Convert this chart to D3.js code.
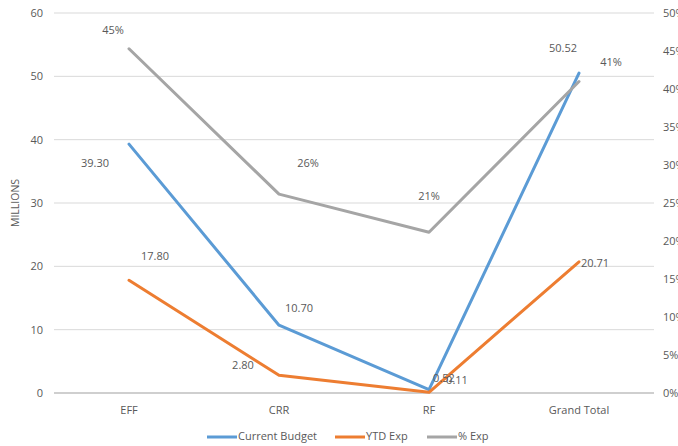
<!DOCTYPE html>
<html>
<head>
<meta charset="utf-8">
<script src="https://cdn.jsdelivr.net/npm/d3@7"></script>
<style>
  html, body { margin: 0; padding: 0; background: #fff; }
  svg text { font-family: "Open Sans", "Noto Sans", sans-serif; fill: #595959; }
</style>
</head>
<body>
<svg id="chart" width="678" height="446"></svg>
<script>
// Budget vs. year-to-date expenditure by program (millions) and % spent
const categories = ["EFF", "CRR", "RF", "Grand Total"];
const currentBudget = [39.30, 10.70, 0.52, 50.52];
const ytdExp = [17.80, 2.80, 0.11, 20.71];
const pctExp = [0.4529, 0.2617, 0.2115, 0.4099];
const leftTicks = [0, 10, 20, 30, 40, 50, 60];
const rightTicks = [0, 0.05, 0.10, 0.15, 0.20, 0.25, 0.30, 0.35, 0.40, 0.45, 0.50];

const svg = d3.select("#chart");
const plot = { left: 54, right: 654, top: 13, bottom: 393 };

const x = d3.scaleBand().domain(categories).range([plot.left, plot.right]);
const cx = d => x(d) + x.bandwidth() / 2;
const yL = d3.scaleLinear().domain([0, 60]).range([plot.bottom, plot.top]);
const yR = d3.scaleLinear().domain([0, 0.5]).range([plot.bottom, plot.top]);

// gridlines
svg.append("g").selectAll("line").data(leftTicks).join("line")
  .attr("x1", plot.left).attr("x2", plot.right)
  .attr("y1", d => yL(d)).attr("y2", d => yL(d))
  .attr("stroke", d => d === 0 ? "#bfbfbf" : "#d9d9d9")
  .attr("stroke-width", d => d === 0 ? 1.5 : 1);

// left axis
const left = svg.append("g").attr("transform", `translate(${plot.left},0)`)
  .call(d3.axisLeft(yL).tickValues(leftTicks).tickSize(0).tickPadding(11));
left.select(".domain").remove();
left.selectAll("text").attr("font-size", 11).style("fill", "#595959")
  .style("font-family", "'Open Sans', sans-serif");

// right axis
const right = svg.append("g").attr("transform", `translate(${plot.right},0)`)
  .call(d3.axisRight(yR).tickValues(rightTicks).tickSize(0).tickPadding(9)
    .tickFormat(d3.format(".0%")));
right.select(".domain").remove();
right.selectAll("text").attr("font-size", 11).style("fill", "#595959")
  .style("font-family", "'Open Sans', sans-serif");

// bottom axis
const bottom = svg.append("g").attr("transform", `translate(0,${plot.bottom})`)
  .call(d3.axisBottom(x).tickSize(0).tickPadding(13));
bottom.select(".domain").remove();
bottom.selectAll("text").attr("font-size", 11).style("fill", "#595959")
  .style("font-family", "'Open Sans', sans-serif");

// axis title
svg.append("text")
  .attr("transform", `translate(19,${(plot.top + plot.bottom) / 2}) rotate(-90)`)
  .attr("text-anchor", "middle").attr("font-size", 10.5)
  .text("MILLIONS");

// series lines
const series = [
  { name: "Current Budget", values: currentBudget, color: "#5b9bd5", y: yL },
  { name: "YTD Exp", values: ytdExp, color: "#ed7d31", y: yL },
  { name: "% Exp", values: pctExp, color: "#a5a5a5", y: yR }
];

series.forEach(s => {
  const line = d3.line().x((d, i) => cx(categories[i])).y(d => s.y(d));
  svg.append("path").datum(s.values)
    .attr("d", line).attr("fill", "none")
    .attr("stroke", s.color).attr("stroke-width", 3)
    .attr("stroke-linejoin", "round").attr("stroke-linecap", "round");
});

// data labels: offsets relative to each point
const fmt2 = d3.format(".2f");
const fmtPct = d3.format(".0%");
const labelOffsets = {
  "Current Budget": [[-34, 20], [20, -16], [15, -11], [-16, -24]],
  "YTD Exp": [[26, -23], [-36, -9], [28, -11], [16, 2]],
  "% Exp": [[-16, -18], [29, -30], [0, -35], [32, -18]]
};
series.forEach(s => {
  s.values.forEach((v, i) => {
    const [dx, dy] = labelOffsets[s.name][i];
    svg.append("text")
      .attr("x", cx(categories[i]) + dx)
      .attr("y", s.y(v) + dy)
      .attr("text-anchor", "middle").attr("dominant-baseline", "middle")
      .attr("font-size", 11)
      .text(s.y === yR ? fmtPct(v) : fmt2(v));
  });
});

// legend
const legendItems = [
  { name: "Current Budget", color: "#5b9bd5", x: 207 },
  { name: "YTD Exp", color: "#ed7d31", x: 335 },
  { name: "% Exp", color: "#a5a5a5", x: 427 }
];
const lg = svg.append("g");
legendItems.forEach(d => {
  lg.append("line").attr("x1", d.x).attr("x2", d.x + 30)
    .attr("y1", 437).attr("y2", 437)
    .attr("stroke", d.color).attr("stroke-width", 3);
  lg.append("text").attr("x", d.x + 31).attr("y", 437)
    .attr("dominant-baseline", "middle").attr("font-size", 11)
    .text(d.name);
});
</script>
</body>
</html>
